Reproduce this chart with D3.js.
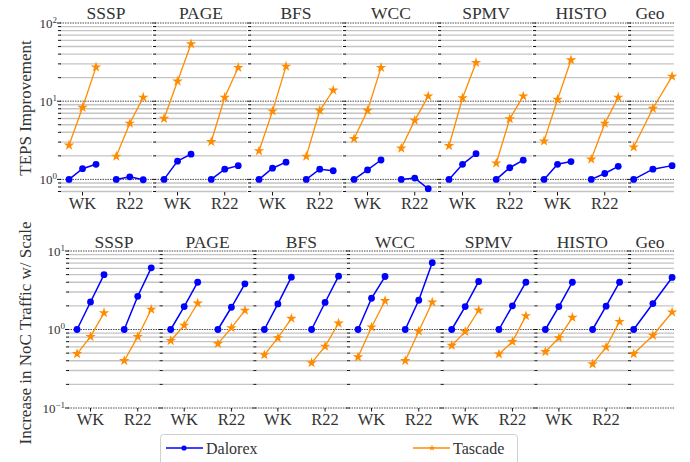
<!DOCTYPE html>
<html>
<head>
<meta charset="utf-8">
<script src="https://cdn.jsdelivr.net/npm/d3@7"></script>
<style>
  body { margin: 0; background: #fff; }
</style>
</head>
<body>
<svg id="chart" width="690" height="462"></svg>
<script>
const panels = ["SSSP", "PAGE", "BFS", "WCC", "SPMV", "HISTO", "Geo"];
const groupLabels = ["WK", "R22"];
const groupTicks = [1, 4.5];
const xPos = [0, 1, 2, 3.5, 4.5, 5.5];

// TEPS improvement (top row), one array per panel: WK x3 then R22 x3
const tepsDalorex = [
  [1, 1.37, 1.56, 1, 1.08, 0.99],
  [1, 1.71, 2.1, 1, 1.35, 1.5],
  [1, 1.39, 1.66, 1, 1.35, 1.29],
  [1, 1.32, 1.77, 1, 1.04, 0.76],
  [1, 1.56, 2.13, 1, 1.41, 1.76],
  [1, 1.56, 1.69, 1, 1.19, 1.47],
  [1, 1.35, 1.5]
];
const tepsTascade = [
  [2.73, 8.3, 27.3, 1.97, 5.2, 11.2],
  [6.0, 18, 54, 3.03, 11.2, 26.9],
  [2.31, 7.46, 27.9, 1.97, 7.6, 13.8],
  [3.31, 7.6, 26.9, 2.5, 5.68, 11.6],
  [2.69, 11, 31.1, 1.61, 5.95, 11.6],
  [3.09, 10.5, 33.6, 1.81, 5.2, 11.2],
  [2.59, 8.07, 20.8]
];

// NoC traffic increase (bottom row)
const nocDalorex = [
  [1, 2.24, 5.0, 1, 2.65, 6.1],
  [1, 1.96, 4.0, 1, 1.92, 3.82],
  [1, 2.12, 4.64, 1, 2.21, 4.78],
  [1, 2.5, 4.73, 1, 2.36, 7.1],
  [1, 1.96, 4.09, 1, 2.0, 4.0],
  [1, 1.96, 4.0, 1, 1.98, 4.0],
  [1, 2.14, 4.6]
];
const nocTascade = [
  [0.49, 0.81, 1.63, 0.4, 0.81, 1.8],
  [0.72, 1.13, 2.16, 0.66, 1.05, 1.75],
  [0.475, 0.78, 1.38, 0.376, 0.61, 1.2],
  [0.446, 1.07, 2.32, 0.4, 0.95, 2.23],
  [0.625, 0.94, 1.76, 0.485, 0.7, 1.49],
  [0.52, 0.78, 1.42, 0.363, 0.595, 1.26],
  [0.49, 0.84, 1.66]
];

const color = {
  dalorex: "#0000ff",
  tascade: "#ff8c00",
  minor: "#c4c4c4",
  major: "#222",
  text: "#333"
};
const serif = "'Liberation Serif', 'DejaVu Serif', serif";

const svg = d3.select("#chart").attr("font-family", serif);
const star = d3.symbol().type(d3.symbolStar);

function drawRow(cfg) {
  const y = d3.scaleLog().domain(cfg.yDomain).range(cfg.yRange);
  const ticks = y.ticks();
  const isMajor = (v) => Math.abs(Math.log10(v) - Math.round(Math.log10(v))) < 1e-9;

  panels.forEach(function (name, i) {
    const isGeo = name == "Geo";
    const left = cfg.left + i * cfg.pitch;
    const width = isGeo ? 44 : 92;
    const x = d3.scaleLinear()
      .domain(isGeo ? [-0.19, 2.1] : [-0.67, 6.15])
      .range([left, left + width]);

    const g = svg.append("g");

    // grid
    g.selectAll("line.grid")
      .data(ticks)
      .join("line")
      .attr("x1", left)
      .attr("x2", left + width)
      .attr("y1", (d) => y(d))
      .attr("y2", (d) => y(d))
      .attr("stroke", (d) => (isMajor(d) ? color.major : color.minor))
      .attr("stroke-width", (d) => (isMajor(d) ? 0.8 : 1.4))
      .attr("stroke-dasharray", (d) => (isMajor(d) ? "1.5,1" : null));

    // left tick marks
    g.selectAll("line.ytick")
      .data(ticks)
      .join("line")
      .attr("x1", (d) => left - (isMajor(d) ? 3 : 2))
      .attr("x2", left + 1)
      .attr("y1", (d) => y(d))
      .attr("y2", (d) => y(d))
      .attr("stroke", "#111")
      .attr("stroke-width", 1);

    // title
    g.append("text")
      .attr("x", left + (isGeo ? width / 2 - 2 : width / 2))
      .attr("y", cfg.titleY)
      .attr("text-anchor", "middle")
      .attr("font-family", serif)
      .attr("font-size", 17.5)
      .attr("fill", color.text)
      .text(name);

    // x ticks and labels
    if (!isGeo) {
      groupTicks.forEach(function (t, k) {
        g.append("line")
          .attr("x1", x(t))
          .attr("x2", x(t))
          .attr("y1", cfg.yRange[0])
          .attr("y2", cfg.yRange[0] + 3.5)
          .attr("stroke", "#111");
        g.append("text")
          .attr("x", x(t))
          .attr("y", cfg.xLabelY)
          .attr("text-anchor", "middle")
          .attr("font-family", serif)
          .attr("font-size", 16.5)
          .attr("fill", color.text)
          .text(groupLabels[k]);
      });
    }

    // y tick labels on first panel
    if (i == 0) {
      ticks.filter(isMajor).forEach(function (v) {
        const e = Math.round(Math.log10(v));
        const t = g.append("text")
          .attr("x", left - 3)
          .attr("y", y(v) + 4.5)
          .attr("text-anchor", "end")
          .attr("font-family", serif)
          .attr("font-size", 13)
          .attr("fill", color.text);
        t.append("tspan").text("10");
        t.append("tspan")
          .attr("dy", -5)
          .attr("font-size", 9)
          .text(e < 0 ? "\u2212" + Math.abs(e) : String(e));
      });
    }

    // series
    const series = [
      { vals: cfg.dalorex[i], col: color.dalorex, kind: "circle", w: 1.5 },
      { vals: cfg.tascade[i], col: color.tascade, kind: "star", w: 1.3 }
    ];
    const line = d3.line().x((d) => x(d[0])).y((d) => y(d[1]));
    series.forEach(function (s) {
      const pts = s.vals.map((v, j) => [xPos[j], v]);
      const groups = [pts.slice(0, 3), pts.slice(3)].filter((p) => p.length);
      groups.forEach(function (p) {
        g.append("path")
          .attr("d", line(p))
          .attr("fill", "none")
          .attr("stroke", s.col)
          .attr("stroke-width", s.w);
      });
      if (s.kind == "circle") {
        g.selectAll(null)
          .data(pts)
          .join("circle")
          .attr("cx", (d) => x(d[0]))
          .attr("cy", (d) => y(d[1]))
          .attr("r", 3.4)
          .attr("fill", s.col);
      } else {
        g.selectAll(null)
          .data(pts)
          .join("path")
          .attr("d", star.size(34)())
          .attr("transform", (d) => `translate(${x(d[0])},${y(d[1])})`)
          .attr("fill", s.col);
      }
    });
  });

  svg.append("text")
    .attr("transform", `translate(${cfg.yLabelX},${cfg.yLabelY}) rotate(-90)`)
    .attr("text-anchor", "middle")
    .attr("font-family", serif)
    .attr("font-size", 17)
    .attr("fill", color.text)
    .text(cfg.yLabel);
}

drawRow({
  yDomain: [0.69, 100],
  yRange: [192, 23],
  left: 60,
  pitch: 95,
  dalorex: tepsDalorex,
  tascade: tepsTascade,
  titleY: 18.5,
  xLabelY: 209,
  yLabel: "TEPS Improvement",
  yLabelX: 31,
  yLabelY: 108
});

drawRow({
  yDomain: [0.1, 10],
  yRange: [408, 251],
  left: 68,
  pitch: 93.67,
  dalorex: nocDalorex,
  tascade: nocTascade,
  titleY: 247.5,
  xLabelY: 424.5,
  yLabel: "Increase in NoC Traffic w/ Scale",
  yLabelX: 31,
  yLabelY: 333
});

// legend
const legend = svg.append("g");
legend.append("rect")
  .attr("x", 160.5)
  .attr("y", 434.5)
  .attr("width", 357)
  .attr("height", 40)
  .attr("rx", 3)
  .attr("fill", "#fff")
  .attr("stroke", "#d0d0d0");

const legendItems = [
  { name: "Dalorex", x: 166, col: color.dalorex, kind: "circle" },
  { name: "Tascade", x: 413, col: color.tascade, kind: "star" }
];
legendItems.forEach(function (it) {
  legend.append("line")
    .attr("x1", it.x)
    .attr("x2", it.x + 37)
    .attr("y1", 448)
    .attr("y2", 448)
    .attr("stroke", it.col)
    .attr("stroke-width", 1.5);
  if (it.kind == "circle") {
    legend.append("circle").attr("cx", it.x + 18).attr("cy", 448).attr("r", 2.6).attr("fill", it.col);
  } else {
    legend.append("path")
      .attr("d", star.size(14)())
      .attr("transform", `translate(${it.x + 19},448)`)
      .attr("fill", it.col);
  }
  legend.append("text")
    .attr("x", it.x + 40)
    .attr("y", 453.5)
    .attr("font-family", serif)
    .attr("font-size", 16)
    .attr("fill", color.text)
    .text(it.name);
});
</script>
</body>
</html>
